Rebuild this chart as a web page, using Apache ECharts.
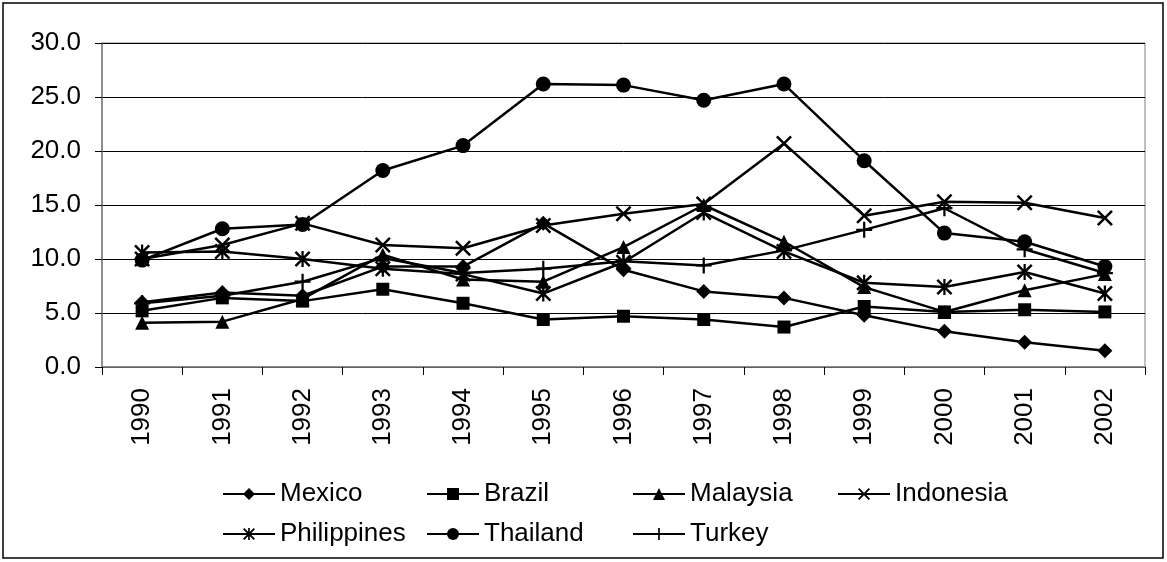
<!DOCTYPE html>
<html>
<head>
<meta charset="utf-8">
<script src="https://cdn.jsdelivr.net/npm/echarts@6/dist/echarts.min.js"></script>
<style>
html,body{margin:0;padding:0;background:#fff;}
#chart{width:1167px;height:562px;}
</style>
</head>
<body>
<div id="chart"></div>
<script>
var years = ['1990','1991','1992','1993','1994','1995','1996','1997','1998','1999','2000','2001','2002'];
var mexico      = [6.0, 6.9, 6.6, 9.3, 9.3, 13.3, 9.0, 7.0, 6.4, 4.8, 3.3, 2.3, 1.5];
var brazil      = [5.2, 6.4, 6.1, 7.2, 5.9, 4.4, 4.7, 4.4, 3.7, 5.6, 5.1, 5.3, 5.1];
var malaysia    = [4.1, 4.2, 6.3, 10.4, 8.1, 7.9, 11.1, 15.0, 11.6, 7.4, 5.1, 7.1, 8.6];
var indonesia   = [10.0, 11.3, 13.3, 11.3, 11.0, 13.1, 14.2, 15.1, 20.7, 14.0, 15.3, 15.2, 13.8];
var philippines = [10.6, 10.7, 10.0, 9.1, 8.6, 6.8, 9.7, 14.3, 10.7, 7.8, 7.4, 8.8, 6.8];
var thailand    = [9.9, 12.8, 13.2, 18.2, 20.5, 26.2, 26.1, 24.7, 26.2, 19.1, 12.4, 11.6, 9.3];
var turkey      = [5.9, 6.6, 7.9, 10.1, 8.7, 9.1, 9.8, 9.4, 10.8, 12.7, 14.7, 10.9, 8.7];

var seriesNames = ['Mexico','Brazil','Malaysia','Indonesia','Philippines','Thailand','Turkey'];
var seriesData = [mexico, brazil, malaysia, indonesia, philippines, thailand, turkey];

var X_PATH = 'path://M0,11L11,0L50,39L89,0L100,11L61,50L100,89L89,100L50,61L11,100L0,89L39,50Z';
var AST_PATH = 'path://M0,11L11,0L50,39L89,0L100,11L61,50L100,89L89,100L50,61L11,100L0,89L39,50ZM43,0L57,0L57,100L43,100Z';
var PLUS_PATH = 'path://M43,0L57,0L57,43L100,43L100,57L57,57L57,100L43,100L43,57L0,57L0,43L43,43Z';

var symbols = ['diamond','rect','triangle', X_PATH, AST_PATH, 'circle', PLUS_PATH];
var symbolSizes = [15, 13, 14, 16, 16, 15, 16];

var font = 'Liberation Sans, Arial, sans-serif';

var series = seriesNames.map(function(n, i){
  return {
    name: n,
    type: 'line',
    data: seriesData[i],
    symbol: symbols[i],
    symbolSize: symbolSizes[i],
    showAllSymbol: true,
    lineStyle: {color: '#000', width: 2.5},
    itemStyle: {color: '#000', borderColor: '#000', borderWidth: 0},
    emphasis: {disabled: true},
    z: 2 + i
  };
});

var legendPos = [
  {left: 222, top: 481}, {left: 426, top: 481}, {left: 632, top: 481}, {left: 837, top: 481},
  {left: 222, top: 521}, {left: 426, top: 521}, {left: 632, top: 521}
];
var legends = seriesNames.map(function(n, i){
  return {
    data: [n],
    left: legendPos[i].left,
    top: legendPos[i].top,
    itemWidth: 52,
    itemHeight: 15,
    padding: 0,
    selectedMode: false,
    textStyle: {fontSize: 26, color: '#000', fontFamily: font}
  };
});

var chart = echarts.init(document.getElementById('chart'), null, {renderer: 'canvas'});
chart.setOption({
  animation: false,
  backgroundColor: '#fff',
  textStyle: {fontFamily: font},
  grid: {left: 102, right: 22, top: 43, bottom: 195, show: true, borderColor: '#808080', borderWidth: 1},
  legend: legends,
  xAxis: {
    type: 'category',
    data: years,
    boundaryGap: true,
    axisLine: {lineStyle: {color: '#808080', width: 1.5}},
    axisTick: {show: true, length: 8, lineStyle: {color: '#000'}},
    axisLabel: {rotate: 90, margin: 21, fontSize: 26, color: '#000', fontFamily: font},
    splitLine: {show: false}
  },
  yAxis: {
    type: 'value',
    min: 0, max: 30, interval: 5,
    axisLine: {show: true, lineStyle: {color: '#808080', width: 1.5}},
    axisTick: {show: true, length: 7, lineStyle: {color: '#000'}},
    axisLabel: {margin: 21, fontSize: 26, color: '#000', fontFamily: font, formatter: function(v){ return v.toFixed(1); }},
    splitLine: {show: true, lineStyle: {color: '#000', width: 1}}
  },
  graphic: [{
    type: 'rect',
    shape: {x: 3, y: 3, width: 1160, height: 555},
    style: {fill: 'none', stroke: '#000', lineWidth: 1.5},
    silent: true
  }],
  series: series
});
</script>
</body>
</html>
